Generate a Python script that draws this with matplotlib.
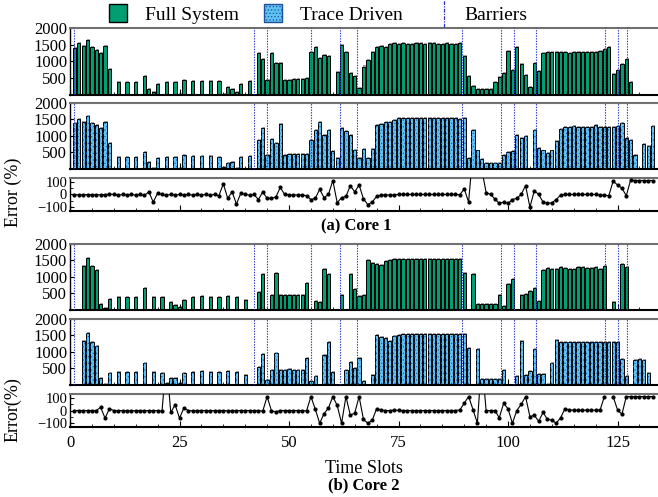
import numpy as np
import matplotlib
matplotlib.use('Agg')
import matplotlib.pyplot as plt
from matplotlib.patches import Patch
from matplotlib.lines import Line2D
from matplotlib.legend_handler import HandlerBase

plt.rcParams['font.family'] = ['Liberation Serif', 'DejaVu Serif']
plt.rcParams['hatch.linewidth'] = 0.5

GREEN = '#009e73'
BLUE = '#5ec3f2'
DOTS = '#1565c0'
BARRIER_C = '#2a35c8'

slots = np.arange(134)

# core 1, full system
full1 = [0, 1400, 1550, 1450, 1640, 1430, 1350, 1250, 1450, 780,
         0, 400, 0, 400, 0, 400, 0, 560, 190, 80,
         340, 0, 400, 0, 400, 30, 440, 0, 410, 0,
         410, 0, 410, 0, 430, 30, 230, 180, 80, 340,
         0, 410, 0, 1240, 1060, 460, 1240, 960, 950, 460,
         460, 480, 480, 470, 510, 1280, 1430, 1100, 1190, 1160,
         0, 680, 1480, 1290, 650, 580, 200, 850, 1030, 1270,
         1440, 1460, 1440, 1510, 1540, 1530, 1540, 1530, 1530, 1540,
         1540, 1530, 1540, 1540, 1530, 1530, 1540, 1530, 1530, 1540,
         1160, 570, 270, 170, 170, 170, 170, 400, 540, 650,
         1310, 760, 1440, 910, 610, 250, 960, 730, 1240, 1270,
         1280, 1280, 1270, 1270, 1260, 1280, 1290, 1270, 1270, 1280,
         1290, 1320, 1370, 1440, 630, 750, 930, 1070, 400, 0,
         0, 0, 0, 0]

# core 1, trace driven
trace1 = [0, 1380, 1520, 1430, 1620, 1400, 1320, 1230, 1420, 800,
          0, 370, 0, 370, 0, 370, 0, 510, 200, 40,
          340, 0, 370, 0, 370, 30, 410, 0, 380, 0,
          380, 0, 380, 0, 360, 60, 180, 210, 20, 360,
          0, 380, 0, 890, 1250, 430, 910, 790, 1350, 430,
          440, 450, 460, 450, 440, 880, 1190, 1430, 1020, 1180,
          550, 330, 1230, 1160, 1020, 590, 320, 610, 320, 620,
          1330, 1370, 1430, 1410, 1470, 1540, 1550, 1540, 1540, 1530,
          1540, 1540, 1540, 1540, 1540, 1540, 1540, 1540, 1540, 1520,
          1540, 320, 1180, 560, 290, 180, 180, 180, 180, 410,
          500, 540, 1020, 940, 1000, 0, 1170, 650, 560, 470,
          560, 840, 1220, 1280, 1280, 1300, 1280, 1280, 1280, 1280,
          1320, 1260, 1270, 1280, 1280, 1310, 1400, 950, 870, 410,
          0, 770, 710, 1300]

# core 1, error (%)
err1 = [np.nan, -1, -2, -1, -1, -2, -2, -2, -2, 3,
        0, -5, 0, -5, 0, -5, 0, -7, 20, -60,
        10, 0, -5, 0, -5, 0, -5, 0, -5, 0,
        -5, 0, -5, 0, -10, 85, -30, 20, -75, 10,
        0, -5, 0, -40, 20, -30, -30, -20, 55, 0,
        -3, -5, -3, -3, -10, -40, -30, 40, -25, 0,
        110, -65, -25, -15, 70, 20, 75, -35, -80, -60,
        -15, -5, -2, -5, -3, 0, 0, 0, 0, 0,
        0, 0, 0, 0, 0, 0, 0, 0, 0, -2,
        45, -60, 340, 230, 200, 15, 0, -35, -70, -60,
        -70, -40, -30, 0, 70, -100, 30, 0, -60, -70,
        -65, -40, -5, 0, 0, 0, 0, 0, 0, 0,
        0, -5, -5, -10, 105, 75, 50, -10, 115, 110,
        110, 110, 110, 110]

# core 2, full system
full2 = [0, 0, 0, 1340, 1570, 1320, 1200, 180, 70, 320,
         0, 390, 0, 390, 0, 390, 0, 680, 0, 390,
         0, 390, 10, 240, 150, 100, 290, 0, 390, 0,
         420, 0, 390, 0, 390, 0, 410, 0, 390, 0,
         290, 0, 0, 540, 1100, 0, 450, 1120, 450, 450,
         460, 450, 460, 450, 830, 0, 260, 240, 1230, 1100,
         10, 0, 460, 0, 1090, 630, 410, 450, 1510, 1410,
         1390, 1370, 1490, 1500, 1530, 1540, 1530, 1540, 1540, 1530,
         1540, 1540, 1540, 1530, 1540, 1540, 1540, 1530, 1530, 1530,
         1120, 0, 1090, 180, 180, 180, 180, 180, 450, 130,
         790, 950, 0, 450, 480, 580, 660, 260, 1220, 1270,
         1250, 1250, 1290, 1270, 1250, 1250, 1300, 1310, 1270, 1270,
         1290, 1240, 1330, 0, 250, 0, 1390, 1300, 0, 0,
         10, 0, 0, 0]

# core 2, trace driven
trace2 = [0, 0, 0, 1340, 1570, 1300, 1190, 210, 30, 360,
          0, 390, 0, 390, 0, 390, 0, 680, 0, 390,
          0, 360, 60, 200, 200, 60, 360, 0, 390, 0,
          420, 0, 390, 0, 390, 0, 410, 0, 390, 0,
          300, 0, 0, 540, 930, 150, 450, 980, 450, 450,
          470, 450, 450, 450, 830, 130, 260, 0, 910, 1300,
          380, 0, 0, 450, 690, 500, 810, 130, 0, 310,
          1520, 1440, 1410, 1340, 1480, 1500, 1540, 1540, 1550, 1540,
          1540, 1540, 1540, 1550, 1540, 1540, 1540, 1540, 1540, 1540,
          1540, 1110, 0, 1090, 180, 180, 180, 180, 180, 450,
          0, 0, 270, 1340, 290, 420, 1080, 340, 330, 30,
          660, 1360, 1300, 1290, 1290, 1290, 1300, 1300, 1290, 1290,
          1310, 1300, 1290, 1290, 1290, 1300, 780, 260, 0, 760,
          800, 750, 370, 0]

# core 2, error (%)
err2 = [np.nan, 0, 0, 0, 0, 0, 0, 25, -60, 15,
        0, -2, 0, -2, 0, -2, 0, -2, 0, -2,
        0, -5, 400, -15, 45, -60, 20, 0, -2, 0,
        0, 0, -2, 0, 0, 0, -2, 0, 0, 0,
        0, 0, 0, 0, -5, 110, -3, -10, 0, 0,
        0, 0, 0, 0, -3, 110, 10, -100, -25, 20,
        110, 40, -100, 110, -37, -20, 110, -70, -100, -77,
        15, 5, 0, 0, 2, 2, 0, 0, 0, 0,
        0, 0, 0, 0, 0, 0, 0, 0, 0, 5,
        57, 110, 8, -100, 400, 0, 0, 0, -57, 57,
        14, -100, 0, 48, 110, -48, -37, -85, -15, -70,
        -75, -100, -57, 14, 5, 3, 3, 3, 3, 3,
        3, 3, 110, np.nan, 110, 5, -30, 110, 110, 110,
        110, 110, 110, 110]

barriers = [1, 42, 45, 55, 61.7, 65.6, 89.5, 98.4, 101.4, 106.4, 122.2, 125.2, 127.2]


def style_axis(ax, bottom_labels=False, ysize=12):
    ax.set_xlim(0, 134)
    ax.set_xticks(np.arange(0, 126, 25))
    ax.set_xticks(np.arange(0, 134, 5), minor=True)
    ax.tick_params(axis='both', which='both', direction='in',
                   top=False, right=False)
    ax.tick_params(axis='x', labelsize=12)
    ax.tick_params(axis='y', labelsize=ysize)
    ax.tick_params(axis='x', which='major', length=4, pad=6)
    ax.tick_params(axis='x', which='minor', length=2)
    ax.tick_params(axis='y', which='major', length=3, pad=2)
    ax.tick_params(axis='y', which='minor', length=2)
    if not bottom_labels:
        ax.tick_params(axis='x', labelbottom=False)
    ax.spines['right'].set_visible(False)
    ax.spines['top'].set_color('#707070')
    ax.spines['top'].set_linewidth(1.5)
    ax.spines['bottom'].set_linewidth(1.5)
    ax.spines['left'].set_linewidth(1.0)


def bar_panel(ax, vals, trace=False):
    vals = np.array(vals, dtype=float)
    shadow = np.where(vals > 0, vals + 30, 0)
    ax.bar(slots + 0.2, shadow, width=0.75, color='#a0a0a0', linewidth=0, zorder=1)
    if trace:
        ax.bar(slots, vals, width=0.75, color=BLUE, edgecolor='black', linewidth=0.7, zorder=2)
        ax.bar(slots, vals, width=0.75, facecolor='none', edgecolor=DOTS, linewidth=0,
               hatch='.....', zorder=3)
    else:
        ax.bar(slots, vals, width=0.75, color=GREEN, edgecolor='black', linewidth=0.7, zorder=2)
    for b in barriers:
        ax.axvline(b, color=BARRIER_C, linestyle=(0, (1.2, 1.2)), linewidth=0.8, zorder=4)
    ax.set_ylim(0, 2000)
    ax.set_yticks([500, 1000, 1500, 2000])
    style_axis(ax)


def err_panel(ax, vals, bottom_labels=False):
    ax.plot(slots, vals, color='black', linewidth=0.8, marker='o', markersize=2.0, zorder=3)
    ax.set_ylim(-130, 130)
    ax.set_yticks([-100, 0, 100])
    ax.set_yticks([-50, 50], minor=True)
    ax.set_yticklabels(['\u2212100', '0', '100'])
    style_axis(ax, bottom_labels, ysize=10.5)


fig = plt.figure(figsize=(6.58, 4.97), dpi=100)
L, W = 0.1064, 0.892
ax1 = fig.add_axes([L, 0.8089, W, 0.1348])
ax2 = fig.add_axes([L, 0.6600, W, 0.1328])
ax3 = fig.add_axes([L, 0.5755, W, 0.0664])
ax4 = fig.add_axes([L, 0.3763, W, 0.1328])
ax5 = fig.add_axes([L, 0.2254, W, 0.1328])
ax6 = fig.add_axes([L, 0.1408, W, 0.0664])

bar_panel(ax1, full1)
bar_panel(ax2, trace1, trace=True)
err_panel(ax3, err1)
bar_panel(ax4, full2)
bar_panel(ax5, trace2, trace=True)
err_panel(ax6, err2, bottom_labels=True)

fig.text(0.02, 1 - 192 / 497, 'Error (%)', rotation=90, ha='center', va='center', fontsize=13)
fig.text(0.02, 1 - 410 / 497, 'Error(%)', rotation=90, ha='center', va='center', fontsize=13)
fig.text(0.541, 0.545, '(a) Core 1', ha='center', va='center', fontsize=12, fontweight='bold')
fig.text(0.5525, 0.058, 'Time Slots', ha='center', va='center', fontsize=13)
fig.text(0.5525, 0.024, '(b) Core 2', ha='center', va='center', fontsize=12, fontweight='bold')


class VLineHandler(HandlerBase):
    def create_artists(self, legend, orig_handle, xdescent, ydescent,
                       width, height, fontsize, trans):
        x = width * 0.85 - xdescent
        line = Line2D([x, x], [-ydescent - 0.3 * height, height * 1.3 - ydescent],
                      color=BARRIER_C, linestyle=(0, (3, 1, 1, 1)), linewidth=0.9,
                      transform=trans)
        return [line]


h_full = Patch(facecolor=GREEN, edgecolor='black', linewidth=1)
h_trace = Patch(facecolor=BLUE, edgecolor='#1f4f9a', linewidth=1, hatch='.....')
h_bar = Line2D([], [])
fig.legend([h_full, h_trace, h_bar], ['Full System', 'Trace Driven', 'Barriers'],
           loc='center', bbox_to_anchor=(0.483, 0.972), ncol=3, frameon=False,
           fontsize=14, handlelength=0.95, handleheight=1.0, columnspacing=1.3,
           handletextpad=0.9, handler_map={h_bar: VLineHandler()})

fig.savefig('out.png', dpi=100)
